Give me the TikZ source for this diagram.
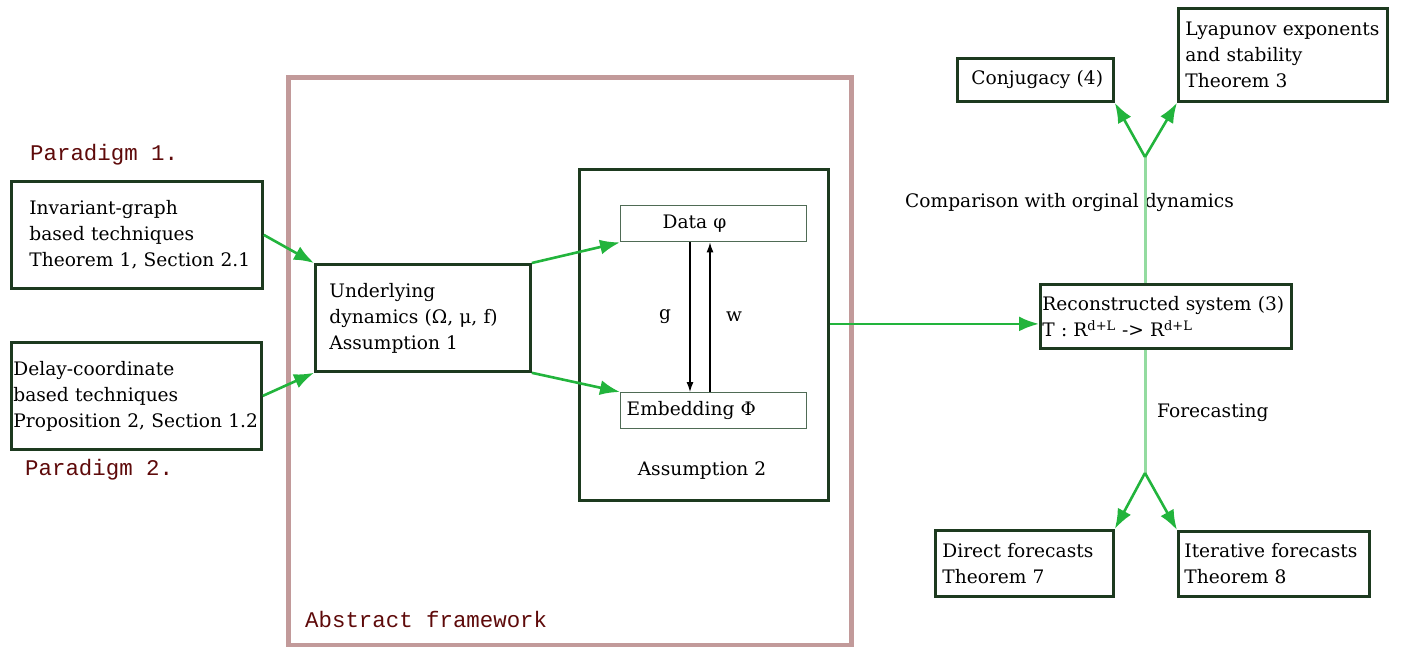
\documentclass[tikz,border=0pt]{standalone}
\usepackage{fontspec}
\setmainfont{DejaVu Serif}
\setmonofont{Liberation Mono}
\usetikzlibrary{arrows.meta}
\definecolor{boxgreen}{HTML}{1D3A1F}
\definecolor{thingreen}{HTML}{4F6B55}
\definecolor{flowgreen}{HTML}{22B43C}
\definecolor{palegreen}{HTML}{93DBA0}
\definecolor{framerose}{HTML}{C29A9A}
\definecolor{labelred}{HTML}{5E0A0A}

\begin{document}
\begin{tikzpicture}[x=1pt, y=-1pt,
  font=\fontsize{18.6}{26}\selectfont,
  thickbox/.style n args={3}{draw=boxgreen, line width=2.8pt, anchor=north west,
    align=left, inner xsep=0pt, inner ysep=0pt,
    minimum width=#1pt, minimum height=#2pt, text width=#1pt-2*#3pt},
  thinbox/.style n args={3}{thickbox={#1}{#2}{#3}, draw=thingreen, line width=1.4pt},
  flow/.style={draw=flowgreen, line width=2.6pt, -{Latex[length=20pt,width=15pt]}},
  paleline/.style={draw=palegreen, line width=3pt},
  maparrow/.style={draw=black, line width=1.2pt, -{Latex[length=10pt,width=7pt]}},
  monolabel/.style={font=\ttfamily\fontsize{22.4}{26}\selectfont, text=labelred, inner sep=0pt},
  plain/.style={inner sep=0pt}]
\useasboundingbox (0,0) rectangle (1406,647);

% abstract framework
\draw[framerose, line width=5pt] (288,78) rectangle (851,645);
\node[monolabel, anchor=west] (framelabel) at (305,619) {Abstract framework};

% paradigms
\node[monolabel, anchor=west] (par1) at (30,155) {Paradigm 1.};
\node[monolabel, anchor=west] (par2) at (25,470) {Paradigm 2.};
\node[thickbox={251}{107}{18}] (invariant) at (10,180)
  {Invariant-graph\\based techniques\\\mbox{Theorem 1, Section 2.1}};
\node[thickbox={250}{107}{2}] (delay) at (10,341)
  {Delay-coordinate\\based techniques\\\mbox{Proposition 2, Section 1.2}};

% underlying dynamics
\node[thickbox={215}{107}{14}] (under) at (314,263)
  {Underlying\\dynamics (Ω, μ, f)\\Assumption~1};

% assumption 2
\node[thickbox={249}{331}{0}] (assum) at (578,168) {};
\node[thinbox={186}{36}{42}] (data) at (620,205) {Data φ};
\node[thinbox={186}{36}{6}] (embed) at (620,392) {Embedding Φ};
\node[plain] (assumlabel) at (702,471) {Assumption 2};
\draw[maparrow] ([xshift=70pt]data.south west) -- ([xshift=70pt]embed.north west);
\draw[maparrow] ([xshift=90pt]embed.north west) -- ([xshift=90pt]data.south west);
\node[plain] (glabel) at (665,317) {g};
\node[plain] (wlabel) at (734,317) {w};

% reconstructed system
\node[thickbox={251}{64}{2}] (recon) at (1039,283)
  {\mbox{Reconstructed system (3)}\\T : R\textsuperscript{d+L} -> R\textsuperscript{d+L}};

% comparison branch
\coordinate (forkup) at (1145,157);
\node[thickbox={156}{43}{14}] (conj) at (956,57) {Conjugacy~(4)};
\node[thickbox={209}{93}{7}] (lyap) at (1177,7)
  {\mbox{Lyapunov exponents}\\and stability\\Theorem~3};
\node[plain, anchor=west] (complabel) at (905,203) {Comparison with orginal dynamics};

% forecasting branch
\coordinate (forkdown) at (1145,473);
\node[thickbox={178}{66}{7}] (direct) at (934,529) {Direct forecasts\\Theorem~7};
\node[thickbox={191}{65}{6}] (iter) at (1177,530) {\mbox{Iterative forecasts}\\Theorem~8};
\node[plain, anchor=west] (forelabel) at (1157,413) {Forecasting};

% connectors
\draw[flow] (invariant.east) -- (under.north west);
\draw[flow] (delay.east) -- (under.south west);
\draw[flow] (under.north east) -- (data.south west);
\draw[flow] (under.south east) -- (embed.north west);
\draw[flow] ([yshift=11pt]assum.east) -- ([yshift=11pt]assum.east -| recon.west);
\draw[paleline] (forkup |- recon.north) -- (forkup);
\draw[flow] (forkup) -- (conj.south east);
\draw[flow] (forkup) -- (lyap.south west);
\draw[paleline] (forkdown |- recon.south) -- (forkdown);
\draw[flow] (forkdown) -- (direct.north east);
\draw[flow] (forkdown) -- (iter.north west);
\end{tikzpicture}
\end{document}
